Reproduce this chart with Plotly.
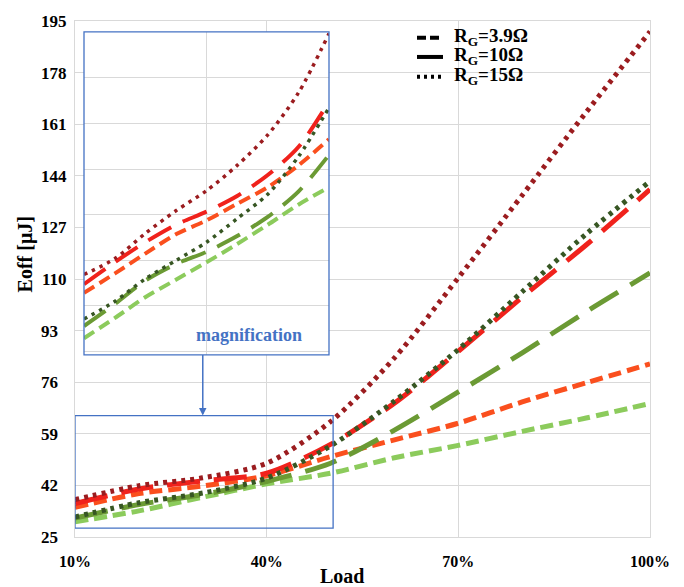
import plotly.graph_objects as go

# ---------------- data ----------------
load_pct = [10, 20, 30, 40, 50, 60, 70, 80, 90, 100]
red_rg39 = [34.8, 39.3, 41.8, 45.2, 51.5, 57.0, 62.5, 69.5, 75.8, 82.0]
red_rg10 = [36.0, 40.8, 43.5, 46.0, 55.5, 69.1, 86.2, 104.0, 121.2, 139.5]
red_rg15 = [37.3, 41.9, 44.5, 49.3, 63.0, 84.0, 110.4, 137.6, 164.9, 191.5]
green_rg39 = [30.0, 33.6, 38.1, 42.5, 46.0, 51.1, 55.2, 59.8, 64.2, 69.0]
green_rg10 = [31.2, 35.7, 39.0, 43.3, 49.3, 60.2, 72.8, 85.7, 99.2, 112.0]
green_rg15 = [31.6, 36.3, 39.5, 44.4, 55.0, 69.8, 86.8, 105.8, 124.8, 142.2]

# magnified inset (10%..50%)
inset_load = [10, 15, 20, 25, 30, 35, 40, 45, 50]
inset_red_rg39 = [35.1, 37.3, 39.6, 41.8, 43.4, 45.3, 47.2, 49.7, 52.7]
inset_red_rg10 = [36.1, 38.6, 40.9, 42.9, 44.4, 46.2, 48.6, 51.8, 57.0]
inset_red_rg15 = [37.2, 39.0, 41.9, 44.5, 46.8, 49.7, 53.2, 58.0, 64.8]
inset_green_rg39 = [29.9, 32.2, 34.6, 36.6, 38.6, 40.7, 42.9, 45.2, 47.2]
inset_green_rg10 = [31.3, 33.8, 36.5, 38.4, 39.8, 41.6, 43.8, 46.7, 50.9]
inset_green_rg15 = [32.1, 34.1, 36.7, 38.8, 40.9, 43.6, 46.4, 50.7, 56.3]

x_ticks = [10, 40, 70, 100]
x_ticktext = ["10%", "40%", "70%", "100%"]
y_ticks = [25, 42, 59, 76, 93, 110, 127, 144, 161, 178, 195]
legend_labels = ["R<sub>G</sub>=3.9Ω", "R<sub>G</sub>=10Ω", "R<sub>G</sub>=15Ω"]

# ---------------- styles ----------------
C_RED39 = "#FA4F1E"
C_RED10 = "#F0221C"
C_RED15 = "#9B1C1F"
C_GRN39 = "#8CCB5C"
C_GRN10 = "#6B9A34"
C_GRN15 = "#375623"
BLUE = "#4472C4"
GRID = "#D9D9D9"
SERIF = "Liberation Serif"

main_style = {
    "rg39": dict(width=5, dash="13px,6px"),
    "rg10": dict(width=5, dash="33px,14px"),
    "rg15": dict(width=5, dash="4px,5px"),
}
inset_style = {
    "rg39": dict(width=4, dash="12px,6px"),
    "rg10": dict(width=4, dash="26px,13px"),
    "rg15": dict(width=3.5, dash="3.5px,5px"),
}
legend_dash = ["9px,4px", "solid", "3px,4px"]
legend_rows_px = [30, 49.5, 69.5]

fig = go.Figure()

main_series = [
    (green_rg39, C_GRN39, "rg39"),
    (red_rg39, C_RED39, "rg39"),
    (green_rg10, C_GRN10, "rg10"),
    (red_rg10, C_RED10, "rg10"),
    (green_rg15, C_GRN15, "rg15"),
    (red_rg15, C_RED15, "rg15"),
]
for ys, col, key in main_series:
    fig.add_trace(go.Scatter(
        x=load_pct, y=ys, mode="lines", showlegend=False, hoverinfo="skip",
        line=dict(color=col, shape="spline", smoothing=0.8, **main_style[key]),
        xaxis="x", yaxis="y"))

inset_series = [
    (inset_green_rg39, C_GRN39, "rg39"),
    (inset_red_rg39, C_RED39, "rg39"),
    (inset_green_rg10, C_GRN10, "rg10"),
    (inset_red_rg10, C_RED10, "rg10"),
    (inset_green_rg15, C_GRN15, "rg15"),
    (inset_red_rg15, C_RED15, "rg15"),
]
for ys, col, key in inset_series:
    fig.add_trace(go.Scatter(
        x=inset_load, y=ys, mode="lines", showlegend=False, hoverinfo="skip",
        line=dict(color=col, shape="spline", smoothing=0.8, **inset_style[key]),
        xaxis="x2", yaxis="y2"))

# geometry of the plot area (px) for paper-based items
L, R, T, B = 75, 34, 13, 50
W, H = 684, 587
PW, PH = W - L - R, H - T - B


def px2paper_x(px):
    return (px - L) / PW


def px2paper_y(py):
    return (H - B - py) / PH


inset_dom_x = [px2paper_x(84), px2paper_x(329)]
inset_dom_y = [px2paper_y(352), px2paper_y(24)]

fig.update_layout(
    width=W, height=H,
    margin=dict(l=L, r=R, t=T, b=B),
    paper_bgcolor="white", plot_bgcolor="white",
    font=dict(family=SERIF, color="black"),
    showlegend=False,
    xaxis=dict(range=[10, 100], tickvals=x_ticks, ticktext=x_ticktext,
               showgrid=True, gridcolor=GRID, gridwidth=1, zeroline=False,
               showline=True, linecolor=GRID, linewidth=1, mirror=True,
               ticks="", ticklabelstandoff=10,
               tickfont=dict(family=SERIF, size=16, color="black", weight="bold")),
    yaxis=dict(range=[25, 195], tickvals=y_ticks,
               ticktext=[(str(v) if v >= 100 else str(v) + "\u2007") for v in y_ticks],
               showgrid=True, gridcolor=GRID, gridwidth=1, zeroline=False,
               showline=True, linecolor=GRID, linewidth=1, mirror=True,
               ticks="", ticklabelstandoff=4,
               tickfont=dict(family=SERIF, size=17, color="black", weight="bold")),
    xaxis2=dict(domain=inset_dom_x, anchor="y2", range=[10, 50],
                tickvals=[30], showticklabels=False, ticks="",
                showgrid=True, gridcolor=GRID, zeroline=False, showline=False),
    yaxis2=dict(domain=inset_dom_y, anchor="x2", range=[28, 65],
                tick0=28.4, dtick=5.22, showticklabels=False, ticks="",
                showgrid=True, gridcolor=GRID, zeroline=False, showline=False),
)

# legend: black line-style keys with labels
for lab, dsh, row in zip(legend_labels, legend_dash, legend_rows_px):
    fig.add_shape(type="line", xref="paper", yref="paper",
                  x0=px2paper_x(417), x1=px2paper_x(443),
                  y0=px2paper_y(row), y1=px2paper_y(row),
                  line=dict(color="black", width=4, dash=dsh), layer="above")
    fig.add_annotation(x=px2paper_x(452), y=px2paper_y(row - 0.5), xref="paper", yref="paper",
                       text=lab, showarrow=False, xanchor="left", yanchor="middle",
                       font=dict(family=SERIF, size=19, color="black", weight="bold"))

# inset frame
fig.add_shape(type="rect", xref="paper", yref="paper",
              x0=inset_dom_x[0], x1=inset_dom_x[1], y0=inset_dom_y[0], y1=inset_dom_y[1],
              line=dict(color=BLUE, width=1.3), fillcolor="rgba(0,0,0,0)", layer="above")
# magnified region in main plot
fig.add_shape(type="rect", xref="x", yref="y", x0=10, x1=50.4, y0=27.9, y1=65,
              line=dict(color=BLUE, width=1.3), fillcolor="rgba(0,0,0,0)", layer="above")
# arrow from inset to region
fig.add_annotation(x=30, y=65, xref="x", yref="y", ax=0, ay=-62, axref="pixel", ayref="pixel",
                   showarrow=True, arrowhead=2, arrowsize=1, arrowwidth=1.5,
                   arrowcolor=BLUE, text="", standoff=0)
fig.add_annotation(x=px2paper_x(249), y=px2paper_y(332), xref="paper", yref="paper",
                   text="magnification", showarrow=False, xanchor="center", yanchor="middle",
                   font=dict(family=SERIF, size=18, color=BLUE, weight="bold"))
# axis titles
fig.add_annotation(x=px2paper_x(25), y=px2paper_y(250), xref="paper", yref="paper",
                   text="Eoff [μJ]", textangle=-90, showarrow=False,
                   xanchor="center", yanchor="middle",
                   font=dict(family=SERIF, size=20, color="black", weight="bold"))
fig.add_annotation(x=px2paper_x(342), y=px2paper_y(577), xref="paper", yref="paper",
                   text="Load", showarrow=False, xanchor="center", yanchor="middle",
                   font=dict(family=SERIF, size=20, color="black", weight="bold"))

fig.write_html("out.html")
